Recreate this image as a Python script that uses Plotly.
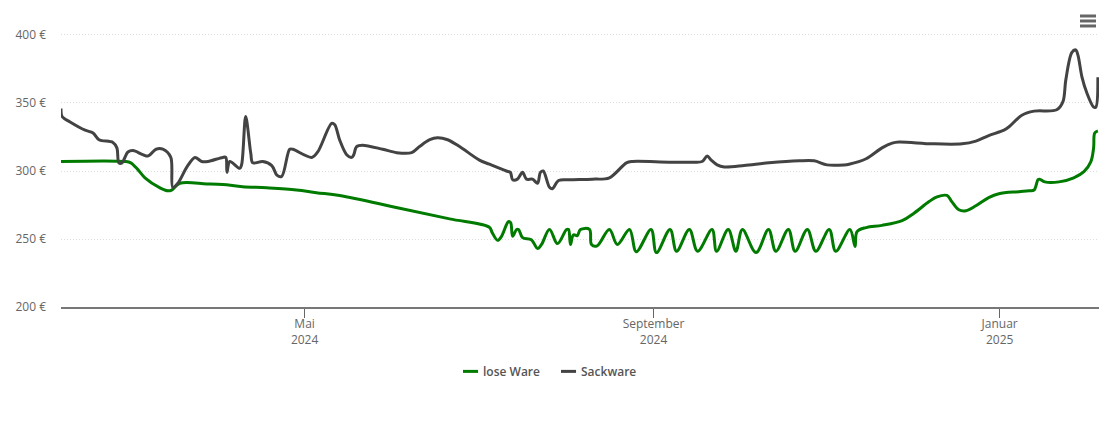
import pandas as pd
import plotly.graph_objects as go

# first day of the x axis, the series below count days from here
start_date = pd.Timestamp("2024-02-05 03:00")

sack_days = [0, 0.4, 3.2, 8.5, 11.3, 13.4, 18.3, 19.7, 20.4, 21.5, 23.6, 25.4, 30.6, 33.5, 35.9, 38.7,
             39.4, 41.2, 44.4, 47.2, 49.6, 51.8, 57, 58.1, 58.5, 59.5, 63, 63.7, 65.1, 66.9, 67.6, 71.1,
             74.3, 76.1, 77.8, 80.6, 81.7, 88.4, 90.5, 95.4, 96.5, 98.2, 100.7, 102.5, 103.2, 104.2, 106.3,
             113.4, 118.3, 123.6, 126.4, 130, 132.7, 136.3, 140.5, 147.5, 151, 157, 158.4, 159.2,
             160.9, 162.7, 164.1, 166.2, 168, 169, 170, 172.2, 173.2, 175.4, 179.2, 187.3, 193.3, 199.3,
             201.4, 214.4, 223.2, 226, 227.8, 229.2, 231.3, 233.8, 240.8, 249.6, 260.2, 265.5, 270, 276,
             277.8, 283.8, 289.4, 293, 295.4, 307, 317.6, 322.5, 327, 332.4, 334.2, 338.7, 343, 351,
             353.2, 354.2, 356.3, 357.7, 358.5, 359.9, 361.6, 364, 364.8, 365.5]
sack_prices = [346, 340, 336, 330, 328, 323, 321, 317, 306, 306, 314, 315, 311, 316, 316, 310,
               288, 291, 303, 310, 307, 307, 310, 310, 299, 307, 302, 305, 340, 313, 306, 307,
               304, 297, 296, 316, 316, 310, 314, 335, 334, 323, 312, 310, 312, 318, 319,
               316, 313.5, 313.5, 318, 323, 324.5, 323, 318, 308, 305, 300, 299, 293.5,
               294, 299, 294, 294, 291, 299, 300, 288, 287, 293, 293.5, 294, 295, 306,
               307, 306.5, 306.5, 307, 311, 308, 304.5, 303, 304, 306, 307.5, 307.5, 304.5, 304.5,
               305, 309, 317, 320.5, 321.3, 320, 320, 322, 326, 330, 332.5, 341, 344, 345,
               351, 367, 387, 389, 385, 369, 357.5, 347, 347, 369]

loose_days = [0, 22.5, 24.6, 27.1, 29.6, 34.9, 37.7, 39, 41.9, 51.4, 57, 64, 72.5, 83, 90, 98.2,
              119.4, 137, 151, 152, 153.9, 155.3, 157.7, 158.5, 159.2, 160.6, 161.3, 162.7, 165.8,
              168, 169.4, 172.2, 175, 178.2, 178.9, 179.6, 180.6, 182, 183.1, 186.3, 187, 189, 193.3,
              196.1, 200.4, 202.8, 208, 209.9, 214.7, 217, 221.5, 224.4, 229.5, 231.1, 235.2, 237.9,
              240.2, 245, 249.4, 252, 256.4, 258.8, 263.1, 266.1, 270.8, 273.1, 278.1, 279.9, 280.6,
              283.8, 289.4, 296.5, 300.7, 306, 308.8, 312.3, 314, 316.5, 319, 322.5, 327, 330.6,
              337.7, 341.2, 343, 344.4, 345, 346.8, 351.8, 357, 360.6, 363, 364, 364.4, 365.5]
loose_prices = [307, 307, 306, 301, 295, 287.6, 285.4, 286, 291, 290.5, 290, 288.5, 287.6, 286, 284, 282,
                272.6, 264.8, 258.6, 254.7, 249, 252, 262.7, 262, 252, 257, 257, 251, 249.5,
                243, 246, 257, 246.6, 257, 257, 246, 253, 252.5, 257, 257, 246, 245, 257,
                246, 257, 240.7, 257, 240, 257, 241, 257, 241, 257, 241, 257, 241,
                257, 240, 257, 241, 257, 241, 257, 241, 257, 241, 257, 244.5, 255.4,
                258.4, 260, 263.5, 269, 277.5, 281, 282, 277.5, 271.5, 270.8, 274.4, 280.4, 283.3,
                284.8, 285.5, 286, 293.6, 294, 292, 292, 295, 299.5, 306.7, 317, 328, 329.5]

y_ticks = [200, 250, 300, 350, 400]
y_labels = ["200 €", "250 €", "300 €", "350 €", "400 €"]
x_ticks = ["2024-05-01", "2024-09-01", "2025-01-01"]
x_labels = ["Mai<br>2024", "September<br>2024", "Januar<br>2025"]


def to_dates(days):
    return [str(start_date + pd.Timedelta(days=d)) for d in days]


fig = go.Figure()

fig.add_trace(go.Scatter(x=to_dates(loose_days), y=loose_prices, name="lose Ware", mode="lines",
                         line=dict(color="#007b00", width=3, shape="spline", smoothing=1.0)))
fig.add_trace(go.Scatter(x=to_dates(sack_days), y=sack_prices, name="Sackware", mode="lines",
                         line=dict(color="#434343", width=3, shape="spline", smoothing=0.9)))

# Update layout
fig.update_layout(width=1110, height=422,
                  margin=dict(l=61, r=11, t=15, b=114.5),
                  plot_bgcolor="white",
                  paper_bgcolor="white",
                  showlegend=False,
                  font=dict(family="Open Sans", size=12, color="#666666"))

fig.update_xaxes(range=[str(start_date), str(start_date + pd.Timedelta(days=365.9))],
                 tickvals=x_ticks, ticktext=x_labels,
                 ticks="outside", ticklen=9, tickcolor="#666666", tickwidth=1,
                 ticklabelstandoff=-4,
                 showline=True, linecolor="#777777", linewidth=1.5,
                 showgrid=False, zeroline=False)
fig.update_yaxes(range=[200, 414.7], tickvals=y_ticks, ticktext=y_labels,
                 ticks="", ticklabelstandoff=14,
                 showgrid=True, gridcolor="#dddddd", griddash="1px,2px", gridwidth=1,
                 zeroline=False)

# Legend drawn by hand, plotly will not make the line samples this short
for t, line_x0, text_x in [(fig.data[0], 0.3873, 0.4066), (fig.data[1], 0.4817, 0.5010)]:
    fig.add_shape(type="line", xref="paper", yref="paper", x0=line_x0, x1=line_x0 + 0.0145,
                  y0=-0.2205, y1=-0.2205, line=dict(color=t.line.color, width=3))
    fig.add_annotation(text=t.name, xref="paper", yref="paper", x=text_x, y=-0.2205,
                       xanchor="left", yanchor="middle", showarrow=False, xshift=-2,
                       font=dict(size=12, color="#555555", weight=600))

# Menu icon in the corner
for y_pos in [0.9966, 0.9795, 0.9624]:
    fig.add_shape(type="line", xref="paper", yref="paper", x0=0.9817, x1=0.9971, y0=y_pos, y1=y_pos,
                  line=dict(color="#666666", width=3))

fig.write_html("out.html", config={"displayModeBar": False},
               post_script="document.body.style.margin='0';")
